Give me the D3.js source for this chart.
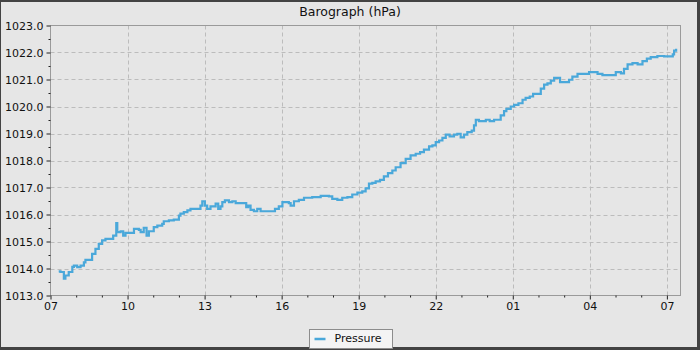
<!DOCTYPE html>
<html>
<head>
<meta charset="utf-8">
<script src="https://cdn.jsdelivr.net/npm/d3@7"></script>
<style>
  body { margin: 0; background: #e6e6e6; }
  text { font-family: "DejaVu Sans", sans-serif; fill: #111; }
</style>
</head>
<body>
<svg id="chart" width="700" height="350"></svg>
<script>
// chart data (hours after 07:00, hPa)
const chartTitle = "Barograph (hPa)";
const seriesName = "Pressure";

const hours = [
  0.32, 0.39, 0.52, 0.58, 0.71, 0.85, 0.91, 1.04, 1.17, 1.30, 1.36, 1.53, 1.62, 1.75, 1.88, 2.01,
  2.14, 2.34, 2.44, 2.56, 2.60, 2.73, 2.83, 2.92, 3.12, 3.25, 3.44, 3.51, 3.63, 3.74, 3.83, 4.02,
  4.16, 4.35, 4.41, 4.61, 4.80, 5.00, 5.06, 5.19, 5.33, 5.45, 5.78, 5.84, 5.91, 6.01, 6.10, 6.23,
  6.43, 6.53, 6.62, 6.69, 6.79, 6.95, 7.08, 7.21, 7.53, 7.62, 7.70, 7.79, 7.92, 8.05, 8.18, 8.38,
  8.64, 8.74, 8.89, 9.03, 9.28, 9.35, 9.48, 9.67, 9.87, 10.00, 10.19, 10.52, 10.84, 10.97, 11.17, 11.36,
  11.56, 11.75, 11.95, 12.14, 12.27, 12.40, 12.53, 12.66, 12.83, 12.98, 13.14, 13.31, 13.44, 13.63, 13.83, 14.02,
  14.22, 14.39, 14.54, 14.74, 14.87, 15.00, 15.13, 15.26, 15.39, 15.54, 15.71, 15.84, 15.97, 16.10, 16.23, 16.40,
  16.49, 16.56, 16.68, 16.88, 16.95, 17.10, 17.27, 17.46, 17.53, 17.66, 17.75, 17.92, 18.05, 18.22, 18.38, 18.50,
  18.66, 18.79, 18.93, 19.09, 19.22, 19.35, 19.48, 19.61, 19.84, 20.06, 20.19, 20.32, 20.52, 20.88, 20.97, 21.16,
  21.30, 21.49, 21.94, 22.01, 22.21, 22.33, 22.47, 22.66, 22.86, 23.05, 23.22, 23.37, 23.63, 23.89, 24.15, 24.23,
  24.28, 24.36
];

const pressure = [
  1013.89, 1013.87, 1013.62, 1013.74, 1013.87, 1014.06, 1014.11, 1014.05, 1014.11, 1014.23, 1014.32, 1014.32, 1014.54, 1014.73, 1014.91, 1015.04,
  1015.10, 1015.10, 1015.22, 1015.68, 1015.35, 1015.38, 1015.22, 1015.32, 1015.32, 1015.47, 1015.43, 1015.35, 1015.51, 1015.22, 1015.38, 1015.53,
  1015.59, 1015.65, 1015.75, 1015.78, 1015.81, 1015.96, 1016.03, 1016.09, 1016.15, 1016.21, 1016.21, 1016.33, 1016.49, 1016.33, 1016.21, 1016.30,
  1016.40, 1016.21, 1016.30, 1016.46, 1016.52, 1016.46, 1016.49, 1016.42, 1016.42, 1016.27, 1016.33, 1016.17, 1016.12, 1016.21, 1016.12, 1016.12,
  1016.12, 1016.21, 1016.30, 1016.46, 1016.42, 1016.33, 1016.49, 1016.54, 1016.62, 1016.62, 1016.64, 1016.69, 1016.67, 1016.58, 1016.54, 1016.62,
  1016.64, 1016.74, 1016.81, 1016.86, 1016.97, 1017.14, 1017.17, 1017.23, 1017.28, 1017.41, 1017.53, 1017.63, 1017.75, 1017.90, 1018.06, 1018.19,
  1018.25, 1018.31, 1018.40, 1018.52, 1018.56, 1018.68, 1018.74, 1018.84, 1018.96, 1018.89, 1018.96, 1018.99, 1018.86, 1018.96, 1019.05, 1019.11,
  1019.30, 1019.51, 1019.46, 1019.46, 1019.51, 1019.46, 1019.51, 1019.51, 1019.67, 1019.83, 1019.91, 1020.00, 1020.06, 1020.12, 1020.25, 1020.32,
  1020.37, 1020.47, 1020.47, 1020.66, 1020.81, 1020.86, 1020.96, 1021.06, 1020.90, 1020.90, 1020.99, 1021.11, 1021.21, 1021.21, 1021.27, 1021.27,
  1021.21, 1021.16, 1021.16, 1021.27, 1021.23, 1021.39, 1021.56, 1021.61, 1021.56, 1021.68, 1021.77, 1021.83, 1021.87, 1021.86, 1021.86, 1021.93,
  1022.07, 1022.14
];

const xTickHours = [0, 3, 6, 9, 12, 15, 18, 21, 24];
const xTickLabels = ["07", "10", "13", "16", "19", "22", "01", "04", "07"];
const yTickValues = [1013, 1014, 1015, 1016, 1017, 1018, 1019, 1020, 1021, 1022, 1023];

const start = new Date(2024, 0, 7, 7, 0);
const toDate = h => new Date(start.getTime() + h * 3600e3);
const data = hours.map((h, i) => ({ t: toDate(h), v: pressure[i] }));

const W = 700, H = 350;
const plotLeft = 50.5, plotRight = 680.5, plotTop = 25.5, plotBottom = 295.5;

const svg = d3.select("#chart");

// outer frame
svg.append("rect").attr("width", W).attr("height", H).attr("fill", "#434343");
svg.append("rect").attr("x", 1).attr("y", 2).attr("width", W - 4).attr("height", H - 5).attr("fill", "#e6e6e6");

svg.append("text")
  .attr("x", W / 2).attr("y", 16)
  .attr("text-anchor", "middle")
  .style("font-size", "12.5px")
  .text(chartTitle);

const x = d3.scaleTime()
  .domain([start, toDate(24.53)])
  .range([plotLeft, plotRight]);

const y = d3.scaleLinear()
  .domain([1013, 1023])
  .range([plotBottom, plotTop]);

// grid
const grid = svg.append("g")
  .attr("stroke", "#bcbcbc")
  .attr("stroke-dasharray", "4,3");
grid.selectAll("line.gx")
  .data(xTickHours.slice(1))
  .enter().append("line")
  .attr("x1", d => Math.round(x(toDate(d))) + 0.5)
  .attr("x2", d => Math.round(x(toDate(d))) + 0.5)
  .attr("y1", plotTop).attr("y2", plotBottom);
grid.selectAll("line.gy")
  .data(yTickValues.slice(1, -1))
  .enter().append("line")
  .attr("x1", plotLeft).attr("x2", plotRight)
  .attr("y1", d => Math.round(y(d)) + 0.5)
  .attr("y2", d => Math.round(y(d)) + 0.5);

// pressure line
const line = d3.line()
  .x(d => x(d.t))
  .y(d => y(d.v))
  .curve(d3.curveStepAfter);

svg.append("path")
  .datum(data)
  .attr("fill", "none")
  .attr("stroke", "#4aa8da")
  .attr("stroke-width", 2.2)
  .attr("d", line);

// plot border
svg.append("rect")
  .attr("x", plotLeft).attr("y", plotTop)
  .attr("width", plotRight - plotLeft).attr("height", plotBottom - plotTop)
  .attr("fill", "none")
  .attr("stroke", "#9a9a9a");

// axes
const xAxis = svg.append("g")
  .attr("transform", "translate(0," + plotBottom + ")")
  .call(d3.axisBottom(x)
    .tickValues(xTickHours.map(toDate))
    .tickSize(4)
    .tickPadding(3)
    .tickFormat((d, i) => xTickLabels[i]));
xAxis.select(".domain").remove();
xAxis.selectAll("text").style("font-size", "11px").attr("fill", "#111");
xAxis.selectAll("line").attr("stroke", "#222");

const xMinor = svg.append("g")
  .attr("transform", "translate(0," + plotBottom + ")")
  .call(d3.axisBottom(x)
    .tickValues(d3.range(0, 25).filter(h => h % 3 !== 0).map(toDate))
    .tickSize(2)
    .tickFormat(""));
xMinor.select(".domain").remove();
xMinor.selectAll("line").attr("stroke", "#222");

const yAxis = svg.append("g")
  .attr("transform", "translate(" + plotLeft + ",0)")
  .call(d3.axisLeft(y)
    .tickValues(yTickValues)
    .tickSize(4)
    .tickPadding(3)
    .tickFormat(d3.format(".1f")));
yAxis.select(".domain").remove();
yAxis.selectAll("text").style("font-size", "11px").attr("fill", "#111");
yAxis.selectAll("line").attr("stroke", "#222");

const yMinor = svg.append("g")
  .attr("transform", "translate(" + plotLeft + ",0)")
  .call(d3.axisLeft(y)
    .tickValues(yTickValues.slice(0, -1).map(d => d + 0.5))
    .tickSize(2)
    .tickFormat(""));
yMinor.select(".domain").remove();
yMinor.selectAll("line").attr("stroke", "#222");

// legend
const legend = svg.append("g").attr("transform", "translate(309.5,329.5)");
legend.append("rect")
  .attr("width", 83).attr("height", 19)
  .attr("fill", "#f4f4f4")
  .attr("stroke", "#8c8c8c");
legend.append("line")
  .attr("x1", 5).attr("x2", 16)
  .attr("y1", 9.5).attr("y2", 9.5)
  .attr("stroke", "#4aa8da")
  .attr("stroke-width", 2.5);
legend.append("text")
  .attr("x", 25).attr("y", 12)
  .style("font-size", "11px")
  .text(seriesName);
</script>
</body>
</html>
